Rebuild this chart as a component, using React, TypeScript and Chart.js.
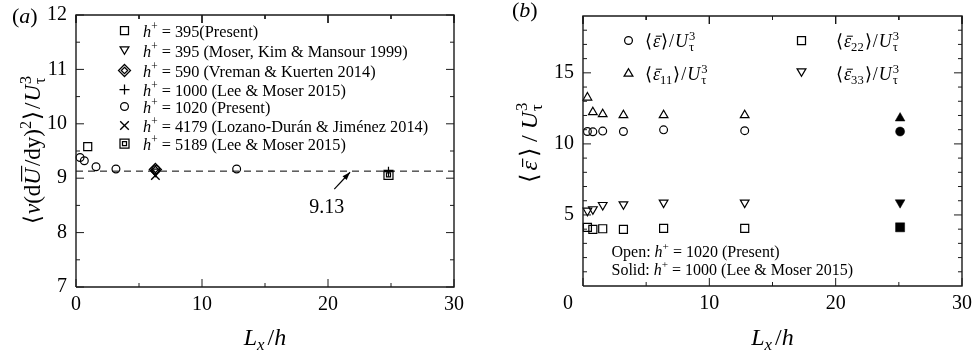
import React, { useEffect, useRef } from 'react';
import { Chart, registerables } from 'chart.js';
Chart.register(...registerables);

const SERIF = '"Liberation Serif", "Times New Roman", Times, serif';

// ---------- Panel (a) data ----------
const aPresent395X = [0.93];
const aPresent395Y = [9.58];
const aMoser395X = [6.3];
const aMoser395Y = [9.12];
const aVreman590X = [6.3];
const aVreman590Y = [9.16];
const aLee1000X = [24.8];
const aLee1000Y = [9.12];
const aPresent1020X = [0.32, 0.66, 1.59, 3.17, 6.33, 12.75];
const aPresent1020Y = [9.38, 9.32, 9.21, 9.17, 9.16, 9.17];
const aLozano4179X = [6.3];
const aLozano4179Y = [9.05];
const aLee5189X = [24.8];
const aLee5189Y = [9.06];
const aMeanValue = 9.13;
const aMeanLabel = '9.13';
const aXTicks = [0, 10, 20, 30];
const aXMinor = [5, 15, 25];
const aYTicks = [7, 8, 9, 10, 11, 12];
const aYMinor = [7.5, 8.5, 9.5, 10.5, 11.5];
const aLegendLabels = [
  ' = 395(Present)',
  ' = 395 (Moser, Kim & Mansour 1999)',
  ' = 590 (Vreman & Kuerten 2014)',
  ' = 1000 (Lee & Moser 2015)',
  ' = 1020 (Present)',
  ' = 4179 (Lozano-Durán & Jiménez 2014)',
  ' = 5189 (Lee & Moser 2015)',
];

// ---------- Panel (b) data ----------
const bPresentX = [0.35, 0.78, 1.56, 3.2, 6.38, 12.8];
const bEps = [10.87, 10.85, 10.9, 10.87, 10.99, 10.93];
const bEps11 = [13.26, 12.23, 12.09, 12.02, 12.02, 12.02];
const bEps22 = [4.13, 3.99, 4.03, 3.99, 4.06, 4.06];
const bEps33 = [5.3, 5.4, 5.7, 5.75, 5.87, 5.87];
const bLeeX = [25.1];
const bLeeEps = [10.87];
const bLeeEps11 = [11.81];
const bLeeEps22 = [4.13];
const bLeeEps33 = [5.87];
const bXTicks = [0, 10, 20, 30];
const bXMinor = [5, 15, 25];
const bYTicks = [5, 10, 15];
const bYMinor = [1, 2, 3, 4, 6, 7, 8, 9, 11, 12, 13, 14, 16, 17, 18];

// ---------- rich text ----------
type Seg = { t: string; it?: boolean; sup?: boolean; sub?: boolean; back?: boolean; bar?: 'low' | 'high'; gap?: number };
const R = (t: string): Seg => ({ t });
const I = (t: string): Seg => ({ t, it: true });
const SUP = (t: string): Seg => ({ t, sup: true });
const SUB = (t: string, back = false, it = false): Seg => ({ t, sub: true, back, it });
const G = (w: number): Seg => ({ t: '', gap: w });

function segFont(s: Seg, size: number) {
  const sz = s.sup || s.sub ? size * 0.7 : size;
  return `${s.it ? 'italic ' : ''}${sz}px ${SERIF}`;
}

function drawRich(ctx: CanvasRenderingContext2D, segs: Seg[], x: number, y: number, size: number, align: 'left' | 'center' = 'left') {
  const items: { s: Seg; start: number; w: number }[] = [];
  let cx = 0, lastStart = 0, lastEnd = 0;
  for (const s of segs) {
    ctx.font = segFont(s, size);
    const w = s.gap !== undefined ? s.gap : ctx.measureText(s.t).width;
    let start: number;
    if (s.back) {
      start = lastStart;
      const end = Math.max(lastEnd, start + w);
      cx = end; lastEnd = end;
    } else {
      start = cx; lastStart = cx; lastEnd = cx + w; cx += w;
    }
    items.push({ s, start, w });
  }
  const ox = align === 'center' ? x - cx / 2 : x;
  ctx.textBaseline = 'alphabetic';
  ctx.textAlign = 'left';
  ctx.fillStyle = '#000';
  ctx.strokeStyle = '#000';
  for (const { s, start, w } of items) {
    if (!s.t) continue;
    ctx.font = segFont(s, size);
    let dy = 0;
    if (s.sup) dy = -size * 0.4;
    if (s.sub) dy = size * 0.22;
    ctx.fillText(s.t, ox + start, y + dy);
    if (s.bar) {
      const by = y - size * (s.bar === 'high' ? 0.8 : 0.6);
      const sh = s.it ? size * 0.1 : 0;
      ctx.lineWidth = Math.max(1, size * 0.05);
      ctx.beginPath();
      ctx.moveTo(ox + start + sh + 1, by);
      ctx.lineTo(ox + start + w + sh, by);
      ctx.stroke();
    }
  }
  return cx;
}

// ---------- legend markers (drawn as paths) ----------
type MK = 'circle' | 'square' | 'tri' | 'triDown' | 'diamond2' | 'plus' | 'cross' | 'square2';

function drawMarker(ctx: CanvasRenderingContext2D, kind: MK, cx: number, cy: number) {
  ctx.save();
  ctx.setLineDash([]);
  ctx.strokeStyle = '#000';
  ctx.lineWidth = 1.25;
  const poly = (pts: number[][]) => {
    ctx.beginPath();
    pts.forEach(([x, y], i) => (i ? ctx.lineTo(cx + x, cy + y) : ctx.moveTo(cx + x, cy + y)));
    ctx.closePath();
    ctx.stroke();
  };
  switch (kind) {
    case 'circle':
      ctx.beginPath(); ctx.arc(cx, cy, 3.9, 0, Math.PI * 2); ctx.stroke(); break;
    case 'square':
      ctx.beginPath(); ctx.rect(cx - 4, cy - 4, 8, 8); ctx.stroke(); break;
    case 'tri':
      poly([[0, -3.8], [4.4, 3.7], [-4.4, 3.7]]); break;
    case 'triDown':
      poly([[0, 3.8], [4.4, -3.7], [-4.4, -3.7]]); break;
    case 'diamond2':
      poly([[0, -6], [6, 0], [0, 6], [-6, 0]]);
      poly([[0, -3.2], [3.2, 0], [0, 3.2], [-3.2, 0]]);
      break;
    case 'plus':
      ctx.beginPath();
      ctx.moveTo(cx - 5, cy); ctx.lineTo(cx + 5, cy);
      ctx.moveTo(cx, cy - 5); ctx.lineTo(cx, cy + 5);
      ctx.stroke(); break;
    case 'cross':
      ctx.lineWidth = 1.35;
      ctx.beginPath();
      ctx.moveTo(cx - 4.3, cy - 4.3); ctx.lineTo(cx + 4.3, cy + 4.3);
      ctx.moveTo(cx + 4.3, cy - 4.3); ctx.lineTo(cx - 4.3, cy + 4.3);
      ctx.stroke(); break;
    case 'square2':
      ctx.beginPath(); ctx.rect(cx - 4.5, cy - 4.5, 9, 9); ctx.stroke();
      ctx.beginPath(); ctx.rect(cx - 2, cy - 2, 4, 4); ctx.stroke();
      break;
  }
  ctx.restore();
}

// ---------- frame + inward ticks as line datasets (drawn through the scales) ----------
type Pt = { x: number; y: number | null };
function frameDatasets(
  x0: number, x1: number, y0: number, y1: number,
  xMaj: number[], xMin: number[], yMaj: number[], yMin: number[],
  dyMaj: number, dyMin: number, dxMaj: number, dxMin: number
) {
  const box: Pt[] = [{ x: x0, y: y0 }, { x: x1, y: y0 }, { x: x1, y: y1 }, { x: x0, y: y1 }, { x: x0, y: y0 }];
  const t: Pt[] = [];
  const seg = (a: Pt, b: Pt) => { t.push(a, b, { x: b.x, y: null }); };
  xMaj.forEach((v) => { seg({ x: v, y: y0 }, { x: v, y: y0 + dyMaj }); seg({ x: v, y: y1 }, { x: v, y: y1 - dyMaj }); });
  xMin.forEach((v) => { seg({ x: v, y: y0 }, { x: v, y: y0 + dyMin }); seg({ x: v, y: y1 }, { x: v, y: y1 - dyMin }); });
  yMaj.forEach((v) => { seg({ x: x0, y: v }, { x: x0 + dxMaj, y: v }); seg({ x: x1, y: v }, { x: x1 - dxMaj, y: v }); });
  yMin.forEach((v) => { seg({ x: x0, y: v }, { x: x0 + dxMin, y: v }); seg({ x: x1, y: v }, { x: x1 - dxMin, y: v }); });
  const base = { type: 'line', pointRadius: 0, pointHoverRadius: 0, spanGaps: false, clip: false, fill: false, tension: 0 };
  return [
    { ...base, label: 'frame', data: box, borderColor: '#1a1a1a', borderWidth: 1.4 },
    { ...base, label: 'ticks', data: t, borderColor: '#1a1a1a', borderWidth: 1 },
  ] as any[];
}

// built-in point styles
type PS = { style: string; r: number; rot?: number; fill?: boolean; bw?: number };
const P: Record<string, PS> = {
  circle: { style: 'circle', r: 3.9 },
  circleF: { style: 'circle', r: 4.5, fill: true },
  square: { style: 'rect', r: 5.66 },
  squareF: { style: 'rect', r: 6.4, fill: true },
  tri: { style: 'triangle', r: 5 },
  triF: { style: 'triangle', r: 5.6, fill: true },
  triDown: { style: 'triangle', r: 5, rot: 180 },
  triDownF: { style: 'triangle', r: 5.6, rot: 180, fill: true },
  diamondOuter: { style: 'rectRot', r: 6, bw: 1.3 },
  diamondInner: { style: 'rectRot', r: 3.2, bw: 1.3 },
  plus: { style: 'cross', r: 5 },
  cross: { style: 'crossRot', r: 6, bw: 1.35 },
  squareOuter: { style: 'rect', r: 6.36 },
  squareInner: { style: 'rect', r: 2.83 },
};

const sc = (xs: number[], ys: number[], p: PS, label: string) => ({
  type: 'scatter' as const,
  label,
  data: xs.map((x, i) => ({ x, y: ys[i] })),
  pointStyle: p.style,
  pointRadius: p.r,
  pointHoverRadius: p.r,
  pointRotation: p.rot || 0,
  pointBorderColor: '#000',
  pointBackgroundColor: p.fill ? '#000' : 'rgba(0,0,0,0)',
  pointBorderWidth: p.fill ? 0.5 : p.bw || 1.2,
  showLine: false,
  clip: false,
});

const tickFont = { family: SERIF, size: 20 };

function axisX(min: number, max: number, ticks: number[], height: number, label0: string) {
  return {
    type: 'linear' as const,
    position: 'bottom' as const,
    min, max,
    afterBuildTicks: (s: any) => { s.ticks = ticks.map((v) => ({ value: v })); },
    afterFit: (s: any) => { s.height = height; s.paddingLeft = 0; s.paddingRight = 0; },
    grid: { display: false, drawTicks: false },
    border: { display: false },
    ticks: {
      font: tickFont, color: '#000', padding: 6, maxRotation: 0, autoSkip: false,
      callback: (v: any) => (v === 0 ? label0 : String(v)),
    },
  };
}
function axisY(min: number, max: number, ticks: number[], width: number) {
  return {
    type: 'linear' as const,
    position: 'left' as const,
    min, max,
    afterBuildTicks: (s: any) => { s.ticks = ticks.map((v) => ({ value: v })); },
    afterFit: (s: any) => { s.width = width; s.paddingTop = 0; s.paddingBottom = 0; },
    grid: { display: false, drawTicks: false },
    border: { display: false },
    ticks: { font: tickFont, color: '#000', padding: 9, autoSkip: false, callback: (v: any) => String(v) },
  };
}

const xTitle: Seg[] = [I('L'), SUB('x', false, true), G(3), R('/'), I('h')];

export default function App() {
  const refA = useRef<HTMLCanvasElement>(null);
  const refB = useRef<HTMLCanvasElement>(null);

  useEffect(() => {
    const legendA: MK[] = ['square', 'triDown', 'diamond2', 'plus', 'circle', 'cross', 'square2'];
    const legendAY = [30.5, 50.5, 70.5, 89.5, 106.5, 125.5, 143.5];

    const decorA = (chart: any) => {
      const ctx: CanvasRenderingContext2D = chart.ctx;
      const sx = chart.scales.x, sy = chart.scales.y;
      ctx.save();
      const x1 = sx.getPixelForValue(20.5), y1 = sy.getPixelForValue(8.8);
      const x2 = sx.getPixelForValue(21.75), y2 = sy.getPixelForValue(9.11);
      ctx.setLineDash([]);
      ctx.strokeStyle = '#000'; ctx.fillStyle = '#000'; ctx.lineWidth = 1.2;
      ctx.beginPath(); ctx.moveTo(x1, y1); ctx.lineTo(x2, y2); ctx.stroke();
      const ang = Math.atan2(y2 - y1, x2 - x1);
      ctx.beginPath();
      ctx.moveTo(x2, y2);
      ctx.lineTo(x2 - 8 * Math.cos(ang) + 2.8 * Math.sin(ang), y2 - 8 * Math.sin(ang) - 2.8 * Math.cos(ang));
      ctx.lineTo(x2 - 8 * Math.cos(ang) - 2.8 * Math.sin(ang), y2 - 8 * Math.sin(ang) + 2.8 * Math.cos(ang));
      ctx.closePath(); ctx.fill();
      drawRich(ctx, [R(aMeanLabel)], sx.getPixelForValue(19.9), sy.getPixelForValue(8.48) + 7, 20, 'center');
      legendA.forEach((k, i) => {
        drawMarker(ctx, k, 124.5, legendAY[i]);
        drawRich(ctx, [I('h'), SUP('+'), R(aLegendLabels[i])], 143, legendAY[i] + 6, 16.3);
      });
      drawRich(ctx, xTitle, 265, 345, 24, 'center');
      ctx.save();
      ctx.translate(40, 150);
      ctx.rotate(-Math.PI / 2);
      drawRich(ctx, [R('⟨'), G(1), I('ν'), R('(d'), { t: 'U', it: true, bar: 'high' }, G(2), R('/dy)'), SUP('2'), G(1), R('⟩'), G(2), R('/'), G(1), I('U'), G(1), SUP('3'), SUB('τ', true)], 0, 0, 23, 'center');
      ctx.restore();
      drawRich(ctx, [R('('), I('a'), R(')')], 12, 23, 22);
      ctx.restore();
    };

    const decorB = (chart: any) => {
      const ctx: CanvasRenderingContext2D = chart.ctx;
      ctx.save();
      const eps = (sub: string, big = false): Seg[] => [
        R('⟨'), G(big ? 4 : 1), { t: 'ε', it: true, bar: 'low' }, ...(sub ? [SUB(sub)] : []), G(big ? 4 : 1), R('⟩'), G(big ? 6 : 1), R('/'), G(big ? 6 : 1), I('U'), G(1), SUP('3'), SUB('τ', true),
      ];
      drawMarker(ctx, 'circle', 142.5, 40.5);
      drawRich(ctx, eps(''), 159, 47, 18);
      drawMarker(ctx, 'tri', 142.5, 72.5);
      drawRich(ctx, eps('11'), 159, 80, 18);
      drawMarker(ctx, 'square', 315.5, 40.5);
      drawRich(ctx, eps('22'), 350, 47, 18);
      drawMarker(ctx, 'triDown', 315.5, 72.5);
      drawRich(ctx, eps('33'), 350, 80, 18);
      drawRich(ctx, [R('Open: '), I('h'), SUP('+'), R(' = 1020 (Present)')], 125.5, 256.5, 16);
      drawRich(ctx, [R('Solid: '), I('h'), SUP('+'), R(' = 1000 (Lee & Moser 2015)')], 125.5, 274.5, 16);
      drawRich(ctx, xTitle, 286.5, 345, 24, 'center');
      ctx.save();
      ctx.translate(51, 143);
      ctx.rotate(-Math.PI / 2);
      drawRich(ctx, eps('', true), 0, 0, 24, 'center');
      ctx.restore();
      drawRich(ctx, [R('('), I('b'), R(')')], 26, 17, 22);
      ctx.restore();
    };

    const plugA = {
      id: 'decorA',
      afterDraw(chart: any) {
        try { decorA(chart); } catch (e) { /* ignore */ }
      },
    };
    const plugB = {
      id: 'decorB',
      afterDraw(chart: any) {
        try { decorB(chart); } catch (e) { /* ignore */ }
      },
    };

    const common = {
      responsive: false,
      animation: false as const,
      devicePixelRatio: 1,
      events: [] as any[],
      plugins: { legend: { display: false }, tooltip: { enabled: false } },
    };

    // tick lengths in data units: major 8 px, minor 4 px
    // panel (a): 54.4 px per y unit, 12.6 px per x unit
    const frameA = frameDatasets(0, 30, 7, 12, aXTicks, aXMinor, aYTicks, aYMinor, 8 / 54.4, 4 / 54.4, 8 / 12.6, 4 / 12.6);
    // panel (b): 14.21 px per y unit, 12.63 px per x unit
    const frameB = frameDatasets(0, 30, 0, 19, bXTicks, bXMinor, bYTicks, bYMinor, 8 / 14.21, 4 / 14.21, 8 / 12.63, 4 / 12.63);

    const chartA = new Chart(refA.current!, {
      type: 'scatter',
      data: {
        datasets: [
          ...frameA,
          {
            type: 'line',
            label: 'mean',
            data: [{ x: 0, y: aMeanValue }, { x: 30, y: aMeanValue }],
            borderColor: '#000',
            borderWidth: 1,
            borderDash: [7, 5],
            pointRadius: 0,
          } as any,
          sc(aPresent395X, aPresent395Y, P.square, 'h+=395 Present'),
          sc(aMoser395X, aMoser395Y, P.triDown, 'h+=395 MKM'),
          sc(aPresent1020X, aPresent1020Y, P.circle, 'h+=1020 Present'),
          sc(aVreman590X, aVreman590Y, P.diamondOuter, 'h+=590 VK'),
          sc(aVreman590X, aVreman590Y, P.diamondInner, 'h+=590 VK (inner)'),
          sc(aLee1000X, aLee1000Y, P.plus, 'h+=1000 LM'),
          sc(aLozano4179X, aLozano4179Y, P.cross, 'h+=4179 LDJ'),
          sc(aLee5189X, aLee5189Y, P.squareOuter, 'h+=5189 LM'),
          sc(aLee5189X, aLee5189Y, P.squareInner, 'h+=5189 LM (inner)'),
        ],
      },
      options: {
        ...common,
        layout: { padding: { left: 0, top: 15, right: 32, bottom: 0 } },
        scales: { x: axisX(0, 30, aXTicks, 67, '0'), y: axisY(7, 12, aYTicks, 76) },
      } as any,
      plugins: [plugA],
    });

    const chartB = new Chart(refB.current!, {
      type: 'scatter',
      data: {
        datasets: [
          ...frameB,
          sc(bPresentX, bEps, P.circle, 'eps'),
          sc(bPresentX, bEps11, P.tri, 'eps11'),
          sc(bPresentX, bEps22, P.square, 'eps22'),
          sc(bPresentX, bEps33, P.triDown, 'eps33'),
          sc(bLeeX, bLeeEps, P.circleF, 'eps LM'),
          sc(bLeeX, bLeeEps11, P.triF, 'eps11 LM'),
          sc(bLeeX, bLeeEps22, P.squareF, 'eps22 LM'),
          sc(bLeeX, bLeeEps33, P.triDownF, 'eps33 LM'),
        ],
      },
      options: {
        ...common,
        layout: { padding: { left: 0, top: 16, right: 10, bottom: 0 } },
        scales: { x: axisX(0, 30, bXTicks, 68, '0      '), y: axisY(0, 19, bYTicks, 97) },
      } as any,
      plugins: [plugB],
    });

    return () => {
      chartA.destroy();
      chartB.destroy();
    };
  }, []);

  return (
    <div style={{ position: 'absolute', left: 0, top: 0, width: 972, height: 354, background: '#fff' }}>
      <canvas ref={refA} width={486} height={354} style={{ position: 'absolute', left: 0, top: 0, width: 486, height: 354 }} />
      <canvas ref={refB} width={486} height={354} style={{ position: 'absolute', left: 486, top: 0, width: 486, height: 354 }} />
    </div>
  );
}
